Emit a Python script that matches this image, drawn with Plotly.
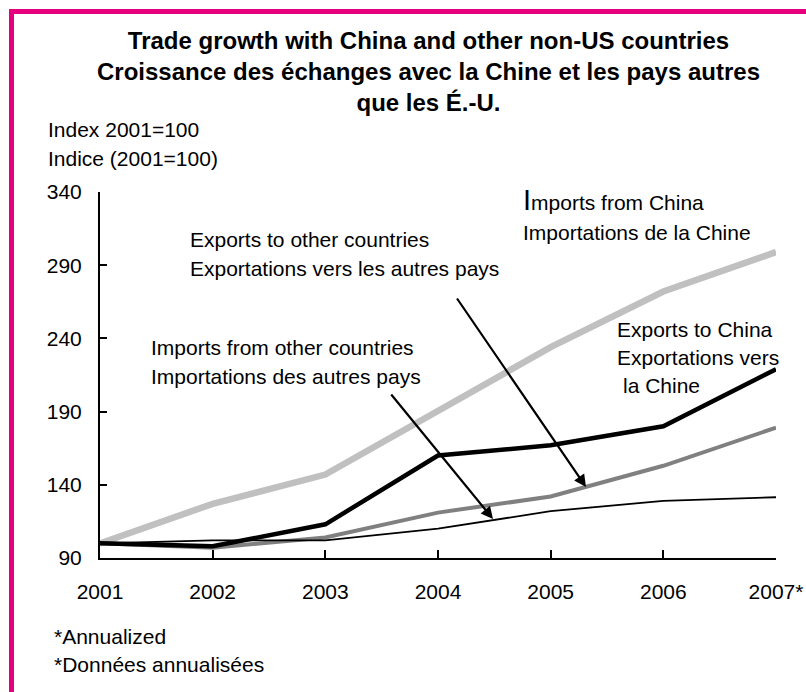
import plotly.graph_objects as go

# ---- data (index, 2001 = 100) ----
years = [2001, 2002, 2003, 2004, 2005, 2006, 2007]
year_labels = ["2001", "2002", "2003", "2004", "2005", "2006", "2007*"]
imports_china = [100, 127, 147, 190, 234, 272, 299]
exports_other = [100, 97, 104, 121, 132, 153, 179]
imports_other = [100, 102, 102, 110, 122, 129, 131.5]
exports_china = [100, 98, 113, 160, 167, 180, 219]
y_ticks = [90, 140, 190, 240, 290, 340]

# ---- page geometry (pixels) ----
W, H = 806, 692
L, R, T, B = 100, 776, 192, 558
PW, PH = R - L, B - T

FONT = "Liberation Sans, Arial, Helvetica, sans-serif"
PINK = "#E6007E"


def px(x, y):
    """Pixel position on the page -> paper coordinates."""
    return (x - L) / PW, (B - y) / PH


fig = go.Figure()

fig.add_trace(go.Scatter(x=years, y=imports_china, mode="lines",
                         line=dict(color="#C0C0C0", width=6.5)))
fig.add_trace(go.Scatter(x=years, y=exports_other, mode="lines",
                         line=dict(color="#808080", width=4)))
fig.add_trace(go.Scatter(x=years, y=imports_other, mode="lines",
                         line=dict(color="#000000", width=1.8)))
fig.add_trace(go.Scatter(x=years, y=exports_china, mode="lines",
                         line=dict(color="#000000", width=4.5)))

annotations = []


def label(text, x, y, size=21, anchor="left", bold=False):
    ax, ay = px(x, y)
    if bold:
        text = "<b>" + text + "</b>"
    annotations.append(dict(text=text, x=ax, y=ay, xref="paper", yref="paper",
                            xanchor=anchor, yanchor="middle", showarrow=False,
                            font=dict(family=FONT, size=size, color="#000000")))


# title block
label("Trade growth with China and other non-US countries<br>"
      "Croissance des échanges avec la Chine et les pays autres<br>"
      "que les É.-U.", 428, 71.5, size=24, anchor="center", bold=True)

# axis unit note
label("Index 2001=100", 46, 129.7)
label("Indice (2001=100)", 46, 158.4)

# series labels
label("Exports to other countries", 188, 239.4)
label("Exportations vers les autres pays", 188, 268.5)
label("Imports from other countries", 149, 347.7)
label("Importations des autres pays", 149, 376.5)
label('<span style="font-size:29px">I</span>mports from China', 521, 200)
label("Importations de la Chine", 521, 232.7)
label("Exports to China", 615, 329.4)
label("Exportations vers", 615, 357.7)
label("la Chine", 621, 385.4)

# footnotes
label("*Annualized", 52, 636.7)
label("*Données annualisées", 52, 664.4)

# pointer arrows (tip position, tail offset in pixels)
for tip, tail in [((586, 487), (456, 297)), ((493, 519), (390, 393))]:
    tx, ty = px(*tip)
    annotations.append(dict(text="", x=tx, y=ty, xref="paper", yref="paper",
                            showarrow=True, arrowhead=2, arrowsize=1.1,
                            arrowwidth=2.2, arrowcolor="#000000",
                            ax=tail[0] - tip[0], ay=tail[1] - tip[1]))

x0, y0 = px(11.5, 11.5)
x1, y1 = px(840, 720)

fig.update_layout(
    template="none",
    width=W, height=H, autosize=False,
    margin=dict(l=L, r=W - R, t=T, b=H - B, pad=0),
    paper_bgcolor="#FFFFFF", plot_bgcolor="#FFFFFF",
    showlegend=False,
    font=dict(family=FONT, size=21, color="#000000"),
    annotations=annotations,
    shapes=[dict(type="rect", xref="paper", yref="paper",
                 x0=x0, y0=y0, x1=x1, y1=y1,
                 line=dict(color=PINK, width=5), fillcolor="rgba(0,0,0,0)")],
    xaxis=dict(range=[2001, 2007], tickvals=years, ticktext=year_labels,
               automargin=False,
               showgrid=False, zeroline=False, showline=True,
               linecolor="#000000", linewidth=2,
               ticks="inside", ticklen=8, tickwidth=2, tickcolor="#000000",
               ticklabelstandoff=14,
               tickfont=dict(family=FONT, size=21, color="#000000")),
    yaxis=dict(range=[90, 340], tickvals=y_ticks, automargin=False,
               showgrid=False, zeroline=False, showline=True,
               linecolor="#000000", linewidth=2,
               ticks="inside", ticklen=7, tickwidth=2, tickcolor="#000000",
               ticklabelstandoff=12,
               tickfont=dict(family=FONT, size=21, color="#000000")),
)

fig.write_html("out.html")
